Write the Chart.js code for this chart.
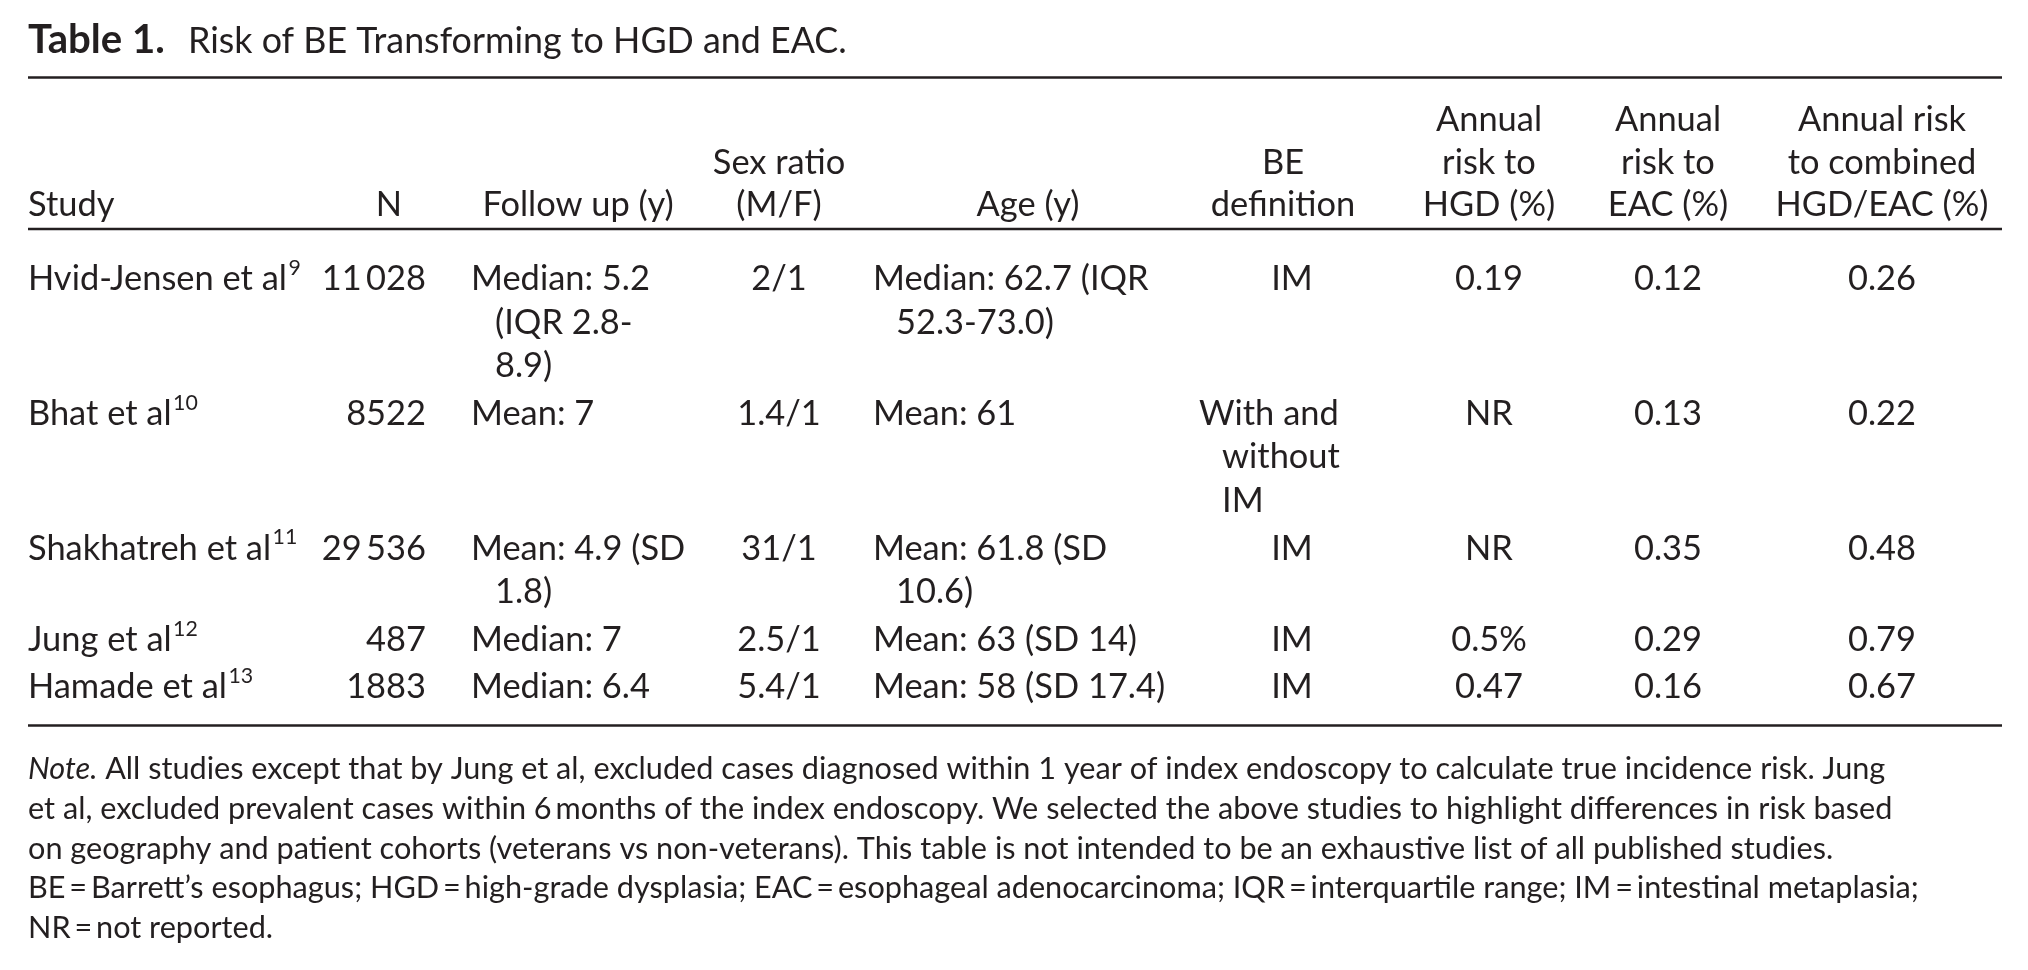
<!DOCTYPE html>
<html>
<head>
<meta charset="utf-8">
<script src="https://cdn.jsdelivr.net/npm/chart.js@4.4.1/dist/chart.umd.min.js"></script>
<style>
  html, body { margin: 0; padding: 0; background: #fff; }
  #wrap { width: 2028px; height: 970px; }
</style>
</head>
<body>
<div id="wrap"><canvas id="tableChart"></canvas></div>
<script>
// table contents
const titleLabel = 'Table 1.';
const titleText = 'Risk of BE Transforming to HGD and EAC.';
const headers = [
    ['Study'], ['N'], ['Follow up (y)'], ['Sex ratio', '(M/F)'], ['Age (y)'],
    ['BE', 'definition'], ['Annual', 'risk to', 'HGD (%)'], ['Annual', 'risk to', 'EAC (%)'],
    ['Annual risk', 'to combined', 'HGD/EAC (%)']
];
const studies = ['Hvid-Jensen et al', 'Bhat et al', 'Shakhatreh et al', 'Jung et al', 'Hamade et al'];
const refs = ['9', '10', '11', '12', '13'];
const patients = ['11\u2009028', '8522', '29\u2009536', '487', '1883'];
const followUp = [['Median: 5.2', '(IQR 2.8-', '8.9)'], ['Mean: 7'], ['Mean: 4.9 (SD', '1.8)'], ['Median: 7'], ['Median: 6.4']];
const sexRatio = ['2/1', '1.4/1', '31/1', '2.5/1', '5.4/1'];
const ages = [['Median: 62.7 (IQR', '52.3-73.0)'], ['Mean: 61'], ['Mean: 61.8 (SD', '10.6)'], ['Mean: 63 (SD 14)'], ['Mean: 58 (SD 17.4)']];
const beDefinition = [['IM'], ['With and', 'without', 'IM'], ['IM'], ['IM'], ['IM']];
const riskHGD = ['0.19', 'NR', 'NR', '0.5%', '0.47'];
const riskEAC = ['0.12', '0.13', '0.35', '0.29', '0.16'];
const riskCombined = ['0.26', '0.22', '0.48', '0.79', '0.67'];
const noteLabel = 'Note.';
const noteLines = [
    ' All studies except that by Jung et al, excluded cases diagnosed within 1 year of index endoscopy to calculate true incidence risk. Jung',
    'et al, excluded prevalent cases within 6\u2009months of the index endoscopy. We selected the above studies to highlight differences in risk based',
    'on geography and patient cohorts (veterans vs non-veterans). This table is not intended to be an exhaustive list of all published studies.',
    'BE\u2009=\u2009Barrett\u2019s esophagus; HGD\u2009=\u2009high-grade dysplasia; EAC\u2009=\u2009esophageal adenocarcinoma; IQR\u2009=\u2009interquartile range; IM\u2009=\u2009intestinal metaplasia;',
    'NR\u2009=\u2009not reported.'
];

// layout
const FONT = 'Lato, "Open Sans", sans-serif';
const INK = '#231f20';
const columns = [
    { x: 28, align: 'left' },
    { x: 426, align: 'right', headX: 389, headAlign: 'center' },
    { x: 471, align: 'left', indent: 24, headX: 578, headAlign: 'center' },
    { x: 779, align: 'center' },
    { x: 873, align: 'left', indent: 23, headX: 1028, headAlign: 'center' },
    { x: 1292, align: 'center', wrapX: 1199, indent: 23, headX: 1283 },
    { x: 1489, align: 'center' },
    { x: 1668, align: 'center' },
    { x: 1882, align: 'center' }
];
const rules = [77.5, 229, 725.5];
const headerBaselines = [131, 174, 216];
const bodyStart = 290, lineStep = 43.6, rowGap = 4;
const noteStart = 779, noteStep = 39.8;

const tablePlugin = {
    id: 'tableText',
    afterDraw(chart) {
        const ctx = chart.ctx;
        const px = v => chart.scales.x.getPixelForValue(v);
        const py = v => chart.scales.y.getPixelForValue(v);

        const setFont = (size, weight, style) => {
            ctx.font = `${style || 'normal'} ${weight || 400} ${size}px ${FONT}`;
        };
        const fit = (text, width, weight, style) => {
            setFont(100, weight, style);
            return 100 * width / ctx.measureText(text).width;
        };
        const bodySize = fit('Hvid-Jensen et al', 259);
        const titleSize = fit(titleText, 659);
        const labelSize = Math.min(fit(titleLabel, 149, 700), titleSize * 1.12);
        const noteSize = fit(noteLabel + noteLines[0], 1863);

        const write = (text, x, y, align, size, weight, style) => {
            setFont(size, weight, style);
            ctx.textAlign = align;
            ctx.textBaseline = 'alphabetic';
            ctx.fillText(text, px(x), py(y));
            return ctx.measureText(text).width;
        };

        ctx.save();
        ctx.fillStyle = INK;
        ctx.strokeStyle = INK;

        // title
        write(titleLabel, 28, 53, 'left', labelSize, 700);
        write(titleText, 188, 53, 'left', titleSize, 400);

        // rules
        ctx.lineWidth = 2.5;
        rules.forEach(r => {
            ctx.beginPath();
            ctx.moveTo(px(28), py(r));
            ctx.lineTo(px(2002), py(r));
            ctx.stroke();
        });

        // header (bottom aligned)
        headers.forEach((lines, c) => {
            const col = columns[c];
            const hx = col.headX !== undefined ? col.headX : col.x;
            const ha = col.headAlign || col.align;
            const first = headerBaselines.length - lines.length;
            lines.forEach((t, i) => write(t, hx, headerBaselines[first + i], ha, bodySize));
        });

        // body
        const cells = studies.map((s, r) => [
            [s], [patients[r]], followUp[r], [sexRatio[r]], ages[r],
            beDefinition[r], [riskHGD[r]], [riskEAC[r]], [riskCombined[r]]
        ]);
        let base = bodyStart;
        cells.forEach((row, r) => {
            let maxLines = 1;
            row.forEach((lines, c) => {
                const col = columns[c];
                maxLines = Math.max(maxLines, lines.length);
                lines.forEach((t, i) => {
                    const yy = base + i * lineStep;
                    if (lines.length > 1 && col.wrapX !== undefined) {
                        write(t, col.wrapX + (i > 0 ? col.indent : 0), yy, 'left', bodySize);
                    } else if (col.align === 'left') {
                        write(t, col.x + (i > 0 ? (col.indent || 0) : 0), yy, 'left', bodySize);
                    } else {
                        write(t, col.x, yy, col.align, bodySize);
                    }
                });
                if (c === 0) {
                    setFont(bodySize);
                    const w = ctx.measureText(row[0][0]).width;
                    write(refs[r], col.x + w + 1.5, base - bodySize * 0.44, 'left', bodySize * 0.62);
                }
            });
            base += maxLines * lineStep + rowGap;
        });

        // note
        noteLines.forEach((t, i) => {
            const yy = noteStart + i * noteStep;
            let x0 = 28;
            if (i === 0) {
                x0 += write(noteLabel, 28, yy, 'left', noteSize, 400, 'italic');
            }
            write(t, x0, yy, 'left', noteSize);
        });
        ctx.restore();
    }
};

const ctx = document.getElementById('tableChart').getContext('2d');
new Chart(ctx, {
    type: 'scatter',
    data: { datasets: [] },
    options: {
        responsive: true,
        maintainAspectRatio: false,
        animation: false,
        events: [],
        layout: { padding: 0 },
        plugins: {
            legend: { display: false },
            tooltip: { enabled: false }
        },
        scales: {
            x: { type: 'linear', display: false, min: 0, max: 2028 },
            y: { type: 'linear', display: false, min: 0, max: 970, reverse: true }
        }
    },
    plugins: [tablePlugin]
});
</script>
</body>
</html>
